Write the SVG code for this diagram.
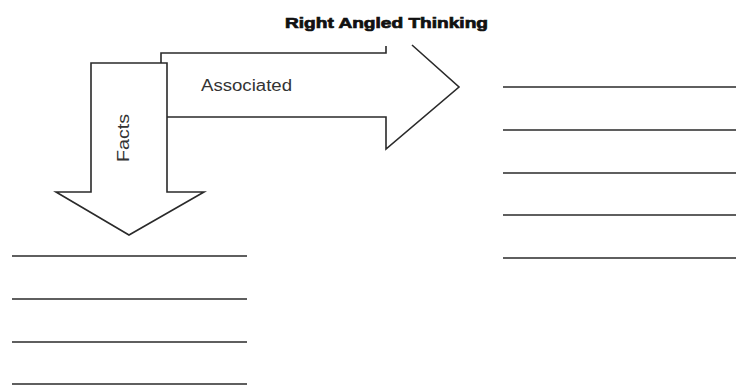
<svg xmlns="http://www.w3.org/2000/svg" width="736" height="387" viewBox="0 0 736 387">
<style>
.shape{fill:none;stroke:#2a2a2a;stroke-width:1.6;stroke-linejoin:miter}
.rule{stroke:#2a2a2a;stroke-width:1.6}
.lbl{font-family:"Liberation Sans",Arial,sans-serif;fill:#333}
.ttl{font-family:"Liberation Sans",Arial,sans-serif;fill:#111;stroke:#111;stroke-width:0.7}
</style>
<rect width="736" height="387" fill="#fff"/>
<g id="title"><text class="ttl" x="285" y="28" font-size="14.5" font-weight="bold" textLength="203" lengthAdjust="spacingAndGlyphs">Right Angled Thinking</text></g>
<g id="associated-arrow">
<path class="shape" d="M161,63 V53 H386 V46 M412,45 L459,87 L386,149 V117 H167"/>
<text class="lbl" x="201" y="91" font-size="16" textLength="91" lengthAdjust="spacingAndGlyphs">Associated</text>
</g>
<g id="facts-arrow">
<path class="shape" d="M91,192 V63 H167 V192 H204 L129,235 L56,192 Z"/>
<text class="lbl" transform="translate(129,162) rotate(-90)" font-size="17" textLength="48" lengthAdjust="spacingAndGlyphs">Facts</text>
</g>
<g id="lines">
<line class="rule" x1="12" y1="256" x2="247" y2="256"/>
<line class="rule" x1="12" y1="299" x2="247" y2="299"/>
<line class="rule" x1="12" y1="342" x2="247" y2="342"/>
<line class="rule" x1="12" y1="384" x2="247" y2="384"/>
<line class="rule" x1="503" y1="87" x2="736" y2="87"/>
<line class="rule" x1="503" y1="130" x2="736" y2="130"/>
<line class="rule" x1="503" y1="173" x2="736" y2="173"/>
<line class="rule" x1="503" y1="215" x2="736" y2="215"/>
<line class="rule" x1="503" y1="258" x2="736" y2="258"/>
</g>
</svg>
